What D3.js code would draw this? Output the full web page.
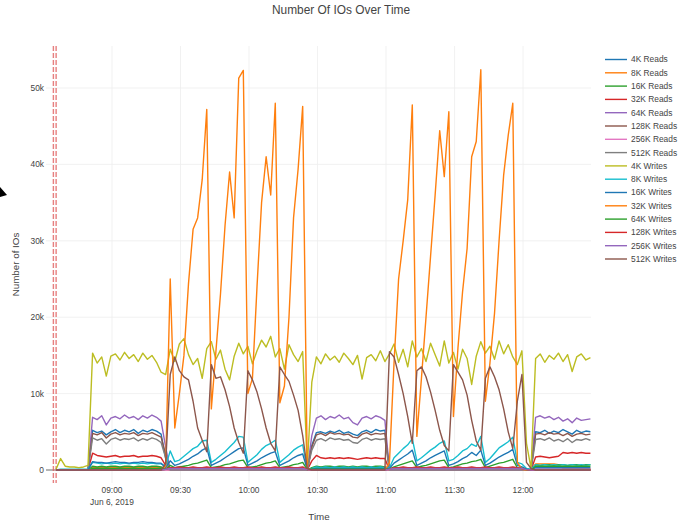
<!DOCTYPE html>
<html>
<head>
<meta charset="utf-8">
<script src="https://cdn.jsdelivr.net/npm/d3@7"></script>
<style>
  body { margin: 0; background: #fff; }
  svg { display: block; }
</style>
</head>
<body>
<div id="chart"></div>
<script>
// samples every 2 minutes, Jun 6 2019, starting 08:35:30
var firstSample = new Date(2019, 5, 6, 8, 35, 30);

// values in thousands of IOs, one block per phase of the run
// (8 idle, 16 steady, 32 burst, 17 steady, 32 burst, 13 steady)
var reads4k = [
  0,0,0,0,0,0,0,0,
  5.2,4.9,5.1,4.6,5.0,5.3,4.9,5.2, 5.0,5.3,4.8,5.2,5.0,5.3,5.1,4.7,
  1.5,0,0,0,0,0,0,0, 0,0,0,0,0,0,0,0, 0,0,0,0,0,0,0,0, 0,0,0,0,0,0,0,0,
  3.2,4.9,5.0,4.8,5.1,4.9,5.2,4.8, 5.0,4.7,4.5,5.0,5.2,4.9,5.3,5.1, 5.2,
  0,0,0,0,0,0,0,0, 0,0,0,0,0,0,0,0, 0,0,0,0,0,0,0,0, 0,0,0,0,0,0,0,0,
  5.0,4.9,5.2,4.8,5.1,4.9,5.3,5.0, 4.7,5.2,4.9,5.1,5.0
];
var reads8k = [
  0,0,0,0,0,0,0,0,
  0.3,0.3,0.3,0.3,0.3,0.3,0.3,0.3, 0.3,0.3,0.3,0.3,0.3,0.3,0.3,0.3,
  0.1,0,0,0,0,0,0,0, 0,0,0,0,0,0,0,0, 0,0,0,0,0,0,0,0, 0,0,0,0,0,0,0,0,
  0.2,0.3,0.3,0.3,0.3,0.3,0.3,0.3, 0.3,0.3,0.3,0.3,0.3,0.3,0.3,0.3, 0.3,
  0,0,0,0,0,0,0,0, 0,0,0,0,0,0,0,0, 0,0,0,0,0,0,0,0, 0,0,0,0,0,0,0,0,
  0.8,0.8,0.8,0.8,0.8,0.7,0.2,0.2, 0.2,0.2,0.2,0.2,0.2
];
var reads16k = [
  0,0,0,0,0,0,0,0,
  0.5,0.4,0.5,0.4,0.5,0.5,0.4,0.5, 0.5,0.4,0.5,0.5,0.4,0.5,0.5,0.4,
  0.2,0,0,0,0,0,0,0, 0,0,0,0,0,0,0,0, 0,0,0,0,0,0,0,0, 0,0,0,0,0,0,0,0,
  0.3,0.5,0.4,0.5,0.5,0.4,0.5,0.5, 0.4,0.5,0.4,0.5,0.5,0.4,0.5,0.5, 0.4,
  0,0,0,0,0,0,0,0, 0,0,0,0,0,0,0,0, 0,0,0,0,0,0,0,0, 0,0,0,0,0,0,0,0,
  0.7,0.6,0.7,0.7,0.6,0.7,0.7,0.6, 0.7,0.7,0.6,0.7,0.7
];
var reads32k = [
  0,0,0,0,0,0,0,0,
  2.2,1.9,1.8,1.7,1.8,1.9,1.7,1.8, 1.8,1.9,1.7,1.8,1.8,1.9,1.8,1.6,
  0.6,0,0,0,0,0,0,0, 0,0,0,0,0,0,0,0, 0,0,0,0,0,0,0,0, 0,0,0,0,0,0,0,0,
  1.2,1.9,1.6,1.5,1.6,1.5,1.6,1.5, 1.6,1.5,1.4,1.5,1.6,1.5,1.6,1.5, 1.5,
  0,0,0,0,0,0,0,0, 0,0,0,0,0,0,0,0, 0,0,0,0,0,0,0,0, 0,0,0,0,0,0,0,0,
  1.7,1.8,1.7,1.6,1.7,1.8,2.3,2.2, 2.3,2.2,2.3,2.2,2.2
];
var reads64k = [
  0,0,0,0,0,0,0,0,
  6.9,6.6,7.1,5.9,6.8,7.0,6.7,7.2, 6.8,7.0,6.6,7.1,6.8,7.2,6.9,6.4,
  3.0,0,0,0,0,0,0,0, 0,0,0,0,0,0,0,0, 0,0,0,0,0,0,0,0, 0,0,0,0,0,0,0,0,
  4.5,6.8,7.1,6.6,7.0,6.8,7.2,6.7, 6.9,6.2,5.9,6.8,7.0,6.7,7.1,6.9, 6.5,
  0,0,0,0,0,0,0,0, 0,0,0,0,0,0,0,0, 0,0,0,0,0,0,0,0, 0,0,0,0,0,0,0,0,
  6.9,7.1,6.8,7.0,6.6,6.9,6.4,6.7, 6.2,6.8,6.5,6.6,6.7
];
var reads128k = [
  0,0,0,0,0,0,0,0,
  4.8,4.6,4.9,4.2,4.7,4.9,4.6,4.8, 4.7,4.9,4.5,4.8,4.7,4.9,4.6,4.3,
  2.0,0,0,0,0,0,0,0, 0,0,0,0,0,0,0,0, 0,0,0,0,0,0,0,0, 0,0,0,0,0,0,0,0,
  3.0,4.6,4.8,4.5,4.9,4.7,4.8,4.6, 4.7,4.3,4.2,4.7,4.9,4.6,4.8,4.7, 4.8,
  0,0,0,0,0,0,0,0, 0,0,0,0,0,0,0,0, 0,0,0,0,0,0,0,0, 0,0,0,0,0,0,0,0,
  4.7,4.8,4.6,4.9,4.7,4.8,4.5,4.8, 4.4,4.7,4.8,4.6,4.7
];
var reads256k = [
  0,0,0,0,0,0,0,0,
  0.15,0.15,0.15,0.15,0.15,0.15,0.15,0.15, 0.15,0.15,0.15,0.15,0.15,0.15,0.15,0.15,
  0,0,0,0,0,0,0,0, 0,0,0,0,0,0,0,0, 0,0,0,0,0,0,0,0, 0,0,0,0,0,0,0,0,
  0.1,0.15,0.15,0.15,0.15,0.15,0.15,0.15, 0.15,0.15,0.15,0.15,0.15,0.15,0.15,0.15, 0.15,
  0,0,0,0,0,0,0,0, 0,0,0,0,0,0,0,0, 0,0,0,0,0,0,0,0, 0,0,0,0,0,0,0,0,
  0.15,0.15,0.15,0.15,0.15,0.15,0.15,0.15, 0.15,0.15,0.15,0.15,0.15
];
var reads512k = [
  0,0,0,0,0,0,0,0,
  4.2,3.9,4.1,3.4,4.0,4.2,3.9,4.1, 4.0,4.2,3.8,4.1,3.9,4.2,4.0,3.6,
  1.6,0,0,0,0,0,0,0, 0,0,0,0,0,0,0,0, 0,0,0,0,0,0,0,0, 0,0,0,0,0,0,0,0,
  2.6,3.9,4.1,3.8,4.2,4.0,4.1,3.9, 4.0,3.6,3.5,4.0,4.2,3.9,4.1,4.0, 4.1,
  0,0,0,0,0,0,0,0, 0,0,0,0,0,0,0,0, 0,0,0,0,0,0,0,0, 0,0,0,0,0,0,0,0,
  4.0,4.1,3.9,4.2,3.8,4.0,3.7,4.1, 3.6,4.0,3.9,4.1,3.9
];
var writes4k = [
  0.1,1.5,0.5,0.4,0.4,0.3,0.4,0.6,
  15.3,14.0,14.8,12.3,14.9,15.2,14.4,15.4, 14.6,15.1,14.2,15.3,14.5,15.0,14.1,12.8,
  12.5,15.8,14.2,16.5,17.2,15.1,13.8,14.6, 12.0,15.9,16.8,14.5,15.7,13.2,11.8,14.9,
  16.6,15.2,16.2,13.9,15.6,17.0,16.1,17.5, 14.8,15.9,13.2,16.4,15.1,14.2,15.5,0.3,
  11.5,14.8,13.9,15.2,14.4,14.9,14.1,15.3, 14.6,13.8,15.0,11.9,14.7,15.1,14.3,15.6, 14.2,
  15.2,16.5,14.1,15.8,13.5,16.9,14.8,15.9, 14.2,16.6,15.1,13.6,16.9,14.0,15.4,13.2,
  15.8,14.6,11.2,14.9,16.8,15.3,16.2,14.5, 16.9,15.2,16.4,14.8,13.8,15.6,3.5,0.2,
  14.6,15.2,14.1,15.0,14.5,15.3,14.2,15.1, 12.9,14.8,15.2,14.4,14.7
];
var writes8k = [
  0,0.1,0.1,0.1,0.1,0.1,0.1,0.1,
  1.0,0.9,0.8,0.9,0.8,0.9,0.8,0.9, 0.8,0.9,0.8,0.9,0.8,0.9,0.8,0.8,
  0.5,2.5,1.1,1.3,1.8,2.3,2.8,3.1, 3.8,3.9,1.0,1.4,1.9,2.4,3.0,3.6,
  4.4,4.3,1.0,1.5,2.0,2.7,3.2,3.5, 3.9,1.0,1.5,2.0,2.6,3.0,3.3,0.1,
  0.2,0.4,0.3,0.4,0.3,0.4,0.3,0.4, 0.3,0.4,0.3,0.4,0.3,0.4,0.3,0.4, 0.3,
  0.3,1.6,2.2,2.8,3.3,4.1,1.2,1.6, 2.1,2.6,3.0,3.5,3.8,1.2,1.4,1.9,
  2.5,2.8,3.4,3.1,4.4,1.0,1.5,2.2, 2.9,3.3,3.7,4.3,1.0,0.8,0.2,0.1,
  0.7,0.6,0.7,0.6,0.7,0.6,0.7,0.6, 0.7,0.6,0.7,0.6,0.7
];
var writes16k = [
  0,0,0,0,0,0,0,0,
  1.1,1.0,1.0,0.9,1.0,1.1,1.0,1.0, 0.9,1.0,1.0,1.1,1.0,1.0,0.9,0.9,
  0.3,1.2,0.6,0.8,1.1,1.4,1.8,2.1, 2.6,2.9,0.6,0.9,1.2,1.6,2.0,2.4,
  2.8,2.9,0.6,0.9,1.2,1.6,1.9,2.2, 2.4,0.6,0.9,1.2,1.6,1.9,2.1,0.1,
  0.1,0.2,0.2,0.2,0.2,0.2,0.2,0.2, 0.2,0.2,0.2,0.2,0.2,0.2,0.2,0.2, 0.2,
  0.2,0.9,1.3,1.7,2.1,2.6,0.6,0.9, 1.2,1.6,1.9,2.2,2.5,0.6,0.8,1.1,
  1.5,1.8,2.3,1.9,2.6,0.6,0.9,1.3, 1.7,2.0,2.3,2.7,0.6,0.4,0.1,0.05,
  0.3,0.3,0.3,0.3,0.3,0.3,0.3,0.3, 0.3,0.3,0.3,0.3,0.3
];
var writes32k = [
  0,0,0,0,0,0,0,0,
  0,0,0,0,0,0,0,0, 0,0,0,0,0,0,0,0,
  0.5,25.0,5.5,10.0,15.0,24.4,31.5,33.0, 38.0,47.2,8.0,15.5,23.0,32.0,39.0,33.0,
  51.3,52.3,10.0,12.0,24.0,35.0,41.0,36.0, 48.0,8.8,11.0,20.0,33.0,39.4,47.6,0.2,
  0,0,0,0,0,0,0,0, 0,0,0,0,0,0,0,0, 0,
  1.0,14.0,25.0,30.0,35.4,47.8,4.4,12.0, 20.0,28.0,36.0,44.4,38.4,46.9,7.0,16.0,
  23.3,29.0,41.0,43.0,52.4,9.0,14.0,20.5, 30.0,38.6,43.8,48.0,1.0,0.1,0,0,
  0,0,0,0,0,0,0,0, 0,0,0,0,0
];
var writes64k = [
  0,0,0,0,0,0,0,0,
  0.2,0.2,0.2,0.2,0.2,0.2,0.2,0.2, 0.2,0.2,0.2,0.2,0.2,0.2,0.2,0.2,
  0.1,0.6,0.3,0.4,0.5,0.6,0.8,0.9, 1.1,1.3,0.3,0.4,0.5,0.7,0.8,1.0,
  1.2,1.3,0.3,0.4,0.5,0.7,0.9,1.0, 1.2,0.3,0.4,0.5,0.7,0.8,1.0,0.05,
  0.1,0.1,0.1,0.1,0.1,0.1,0.1,0.1, 0.1,0.1,0.1,0.1,0.1,0.1,0.1,0.1, 0.1,
  0.1,0.4,0.6,0.8,1.0,1.2,0.3,0.5, 0.6,0.8,1.0,1.2,1.3,0.3,0.4,0.6,
  0.8,0.9,1.1,1.2,1.4,0.3,0.5,0.7, 0.9,1.0,1.2,1.4,0.3,0.2,0.05,0,
  0.5,0.5,0.5,0.5,0.5,0.5,0.5,0.5, 0.5,0.5,0.5,0.5,0.5
];
var writes128k = [
  0,0,0,0,0,0,0,0,
  0,0,0,0,0,0,0,0, 0,0,0,0,0,0,0,0,
  0.1,0.3,0.3,0.4,0.3,0.3,0.4,0.3, 0.3,0.4,0.3,0.3,0.4,0.3,0.3,0.4,
  0.3,0.3,0.4,0.3,0.3,0.4,0.3,0.3, 0.4,0.3,0.3,0.4,0.3,0.3,0.4,0.05,
  0,0,0,0,0,0,0,0, 0,0,0,0,0,0,0,0, 0,
  0.1,0.3,0.3,0.4,0.3,0.3,0.4,0.3, 0.3,0.4,0.3,0.3,0.4,0.3,0.3,0.4,
  0.3,0.3,0.4,0.3,0.3,0.4,0.3,0.3, 0.4,0.3,0.3,0.4,0.3,0.2,0.05,0,
  0,0,0,0,0,0,0,0, 0,0,0,0,0
];
var writes256k = [
  0,0,0,0,0,0,0,0,
  0,0,0,0,0,0,0,0, 0,0,0,0,0,0,0,0,
  0.1,0.2,0.2,0.2,0.2,0.2,0.2,0.2, 0.2,0.2,0.2,0.2,0.2,0.2,0.2,0.2,
  0.2,0.2,0.2,0.2,0.2,0.2,0.2,0.2, 0.2,0.2,0.2,0.2,0.2,0.2,0.2,0.05,
  0,0,0,0,0,0,0,0, 0,0,0,0,0,0,0,0, 0,
  0.1,0.2,0.2,0.2,0.2,0.2,0.2,0.2, 0.2,0.2,0.2,0.2,0.2,0.2,0.2,0.2,
  0.2,0.2,0.2,0.2,0.2,0.2,0.2,0.2, 0.2,0.2,0.2,0.2,0.2,0.2,0.05,0,
  0,0,0,0,0,0,0,0, 0,0,0,0,0
];
var writes512k = [
  0,0,0,0,0,0,0,0,
  0,0,0,0,0,0,0,0, 0,0,0,0,0,0,0,0,
  0.8,12.5,14.8,13.0,12.2,11.8,9.0,5.5, 3.9,2.4,13.8,12.0,12.2,10.5,8.3,5.5,
  3.6,2.2,13.0,11.8,10.2,8.0,5.5,3.5, 2.5,13.5,12.5,11.6,9.8,7.8,4.5,0.2,
  0,0,0,0,0,0,0,0, 0,0,0,0,0,0,0,0, 0,
  15.5,14.8,12.5,10.0,7.0,3.5,13.0,13.5, 12.2,10.2,7.8,5.2,3.2,2.5,13.8,12.8,
  11.8,9.8,6.5,3.8,2.6,12.0,13.5,12.2, 10.5,8.0,5.0,2.8,9.0,12.5,1.0,0.2,
  0,0,0,0,0,0,0,0, 0,0,0,0,0
];

var seriesNames = ["4K Reads", "8K Reads", "16K Reads", "32K Reads", "64K Reads",
  "128K Reads", "256K Reads", "512K Reads", "4K Writes", "8K Writes", "16K Writes",
  "32K Writes", "64K Writes", "128K Writes", "256K Writes", "512K Writes"];
var seriesValues = [reads4k, reads8k, reads16k, reads32k, reads64k, reads128k,
  reads256k, reads512k, writes4k, writes8k, writes16k, writes32k, writes64k,
  writes128k, writes256k, writes512k];
var colors = ["#1f77b4", "#ff7f0e", "#2ca02c", "#d62728", "#9467bd", "#8c564b",
  "#e377c2", "#7f7f7f", "#bcbd22", "#17becf"];

var yTicks = [0, 10, 20, 30, 40, 50];
var markerTimes = [new Date(2019, 5, 6, 8, 34, 20), new Date(2019, 5, 6, 8, 35, 32)];

var width = 683, height = 525;
var fontFamily = "'Liberation Sans', Arial, sans-serif";
var textColor = "#444";

var times = writes4k.map(function (d, i) {
  return d3.timeMinute.offset(firstSample, 2 * i);
});

var x = d3.scaleTime()
  .domain([new Date(2019, 5, 6, 8, 31, 6), new Date(2019, 5, 6, 12, 29, 45)])
  .range([46, 591]);
var y = d3.scaleLinear().domain([-1.7, 55.5]).range([483, 46]);

var svg = d3.select("#chart").append("svg")
  .attr("width", width)
  .attr("height", height)
  .style("font-family", fontFamily);

svg.append("rect").attr("width", width).attr("height", height).attr("fill", "#fff");

// grid
var xTicks = x.ticks(d3.timeMinute.every(30));
svg.append("g").selectAll("line").data(xTicks).join("line")
  .attr("x1", function (d) { return x(d); })
  .attr("x2", function (d) { return x(d); })
  .attr("y1", 46).attr("y2", 483)
  .attr("stroke", "#eee").attr("stroke-width", 0.8);
svg.append("g").selectAll("line").data(yTicks.slice(1)).join("line")
  .attr("x1", 46).attr("x2", 591)
  .attr("y1", function (d) { return y(d); })
  .attr("y2", function (d) { return y(d); })
  .attr("stroke", "#eee").attr("stroke-width", 0.8);

// zero line
svg.append("line")
  .attr("x1", 46).attr("x2", 591)
  .attr("y1", y(0)).attr("y2", y(0))
  .attr("stroke", "#444").attr("stroke-width", 0.8);

// red dashed marker lines
svg.append("g").selectAll("line").data(markerTimes).join("line")
  .attr("x1", function (d) { return x(d); })
  .attr("x2", function (d) { return x(d); })
  .attr("y1", 46).attr("y2", 483)
  .attr("stroke", "#e06060").attr("stroke-opacity", 0.8)
  .attr("stroke-width", 1.4)
  .attr("stroke-dasharray", "5,2");

// lines, drawn in legend order so 512K Writes ends up on top
var line = d3.line()
  .x(function (d, i) { return x(times[i]); })
  .y(function (d) { return y(d); });

svg.append("g").selectAll("path").data(seriesValues).join("path")
  .attr("d", line)
  .attr("fill", "none")
  .attr("stroke", function (d, i) { return colors[i % 10]; })
  .attr("stroke-width", 1.4)
  .attr("stroke-linejoin", "round");

// y axis labels
svg.append("g").selectAll("text").data(yTicks).join("text")
  .attr("x", 44)
  .attr("y", function (d) { return y(d); })
  .attr("dy", "0.35em")
  .attr("text-anchor", "end")
  .attr("font-size", 8.4)
  .attr("fill", textColor)
  .text(function (d) { return d === 0 ? "0" : d + "k"; });

// x axis labels
var fmt = d3.timeFormat("%H:%M");
svg.append("g").selectAll("text").data(xTicks).join("text")
  .attr("x", function (d) { return x(d); })
  .attr("y", 493)
  .attr("text-anchor", "middle")
  .attr("font-size", 8.4)
  .attr("fill", textColor)
  .text(function (d) { return fmt(d); });
svg.append("text")
  .attr("x", x(xTicks[0]))
  .attr("y", 505)
  .attr("text-anchor", "middle")
  .attr("font-size", 8.4)
  .attr("fill", textColor)
  .text("Jun 6, 2019");

// titles
svg.append("text")
  .attr("x", 341).attr("y", 14)
  .attr("text-anchor", "middle")
  .attr("font-size", 11.9)
  .attr("fill", textColor)
  .text("Number Of IOs Over Time");
svg.append("text")
  .attr("x", 319).attr("y", 520)
  .attr("text-anchor", "middle")
  .attr("font-size", 9.8)
  .attr("fill", textColor)
  .text("Time");
svg.append("text")
  .attr("transform", "translate(19,264.5) rotate(-90)")
  .attr("text-anchor", "middle")
  .attr("font-size", 9.8)
  .attr("fill", textColor)
  .text("Number of IOs");

// legend
var legend = svg.append("g").selectAll("g").data(seriesNames).join("g")
  .attr("transform", function (d, i) { return "translate(605," + (59.5 + i * 13.3) + ")"; });
legend.append("line")
  .attr("x1", 0).attr("x2", 22)
  .attr("stroke", function (d, i) { return colors[i % 10]; })
  .attr("stroke-width", 1.4);
legend.append("text")
  .attr("x", 26).attr("dy", "0.35em")
  .attr("font-size", 8.4)
  .attr("fill", textColor)
  .text(function (d) { return d; });

// mouse pointer caught in the screenshot
svg.append("path")
  .attr("d", "M0,187L7,195L0,197Z")
  .attr("fill", "#000");
</script>
</body>
</html>
